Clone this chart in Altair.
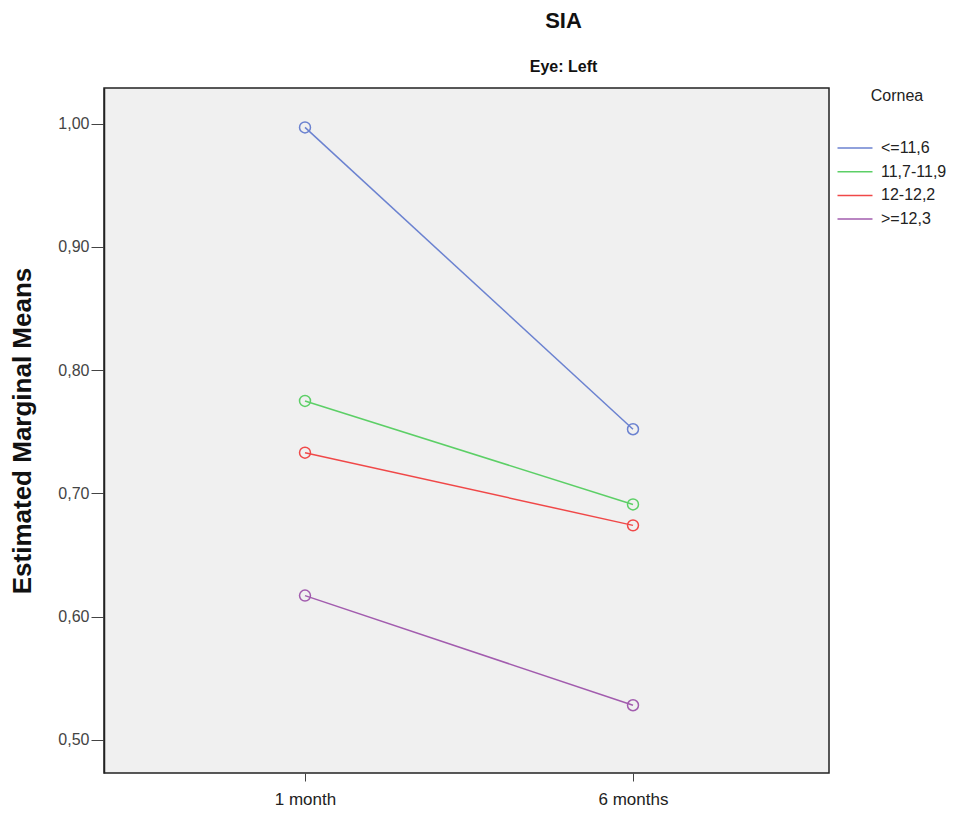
import altair as alt
import pandas as pd

times = ["1 month", "6 months"]
groups = ["<=11,6", "11,7-11,9", "12-12,2", ">=12,3"]
colors = ["#6b82d0", "#5ccf66", "#f04848", "#a25cae"]
vals_le116 = [0.997, 0.752]
vals_117_119 = [0.775, 0.691]
vals_12_122 = [0.733, 0.674]
vals_ge123 = [0.617, 0.528]

rows = []
for g, vals in zip(groups, [vals_le116, vals_117_119, vals_12_122, vals_ge123]):
    for t, v in zip(times, vals):
        rows.append({"time": t, "Cornea": g, "mean": v})
df = pd.DataFrame(rows)

x = alt.X("time:N", scale=alt.Scale(type="point", domain=times, range=[201, 529], padding=0),
          axis=alt.Axis(title=None, labelAngle=0, labelFontSize=17, labelColor="#222",
                        labelFont="Liberation Sans", domain=False,
                        tickColor="#444", tickSize=8, labelPadding=10, grid=False))
y = alt.Y("mean:Q", scale=alt.Scale(domain=[0.473, 1.029], nice=False, zero=False),
          axis=alt.Axis(title="Estimated Marginal Means", titleFontSize=26, titleFont="Liberation Sans",
                        titleFontWeight="bold", titleColor="#111", titlePadding=22,
                        values=[0.5, 0.6, 0.7, 0.8, 0.9, 1.0],
                        labelExpr="replace(format(datum.value, '.2f'), '.', ',')",
                        labelFontSize=16, labelColor="#444", labelFont="Liberation Sans",
                        domainColor="#222", domainWidth=1.5, tickColor="#444", tickSize=13,
                        labelPadding=2, grid=False))
color = alt.Color("Cornea:N", scale=alt.Scale(domain=groups, range=colors),
                  legend=alt.Legend(title="Cornea", orient="none", legendX=743, legendY=0,
                                    symbolType="M-3,0H3", symbolSize=136, symbolStrokeWidth=1.5,
                                    titleFontSize=16, titleFontWeight="normal", titleFont="Liberation Sans",
                                    titleColor="#222", titlePadding=36, titleAnchor="middle",
                                    labelFontSize=16, labelFont="Liberation Sans", labelColor="#222",
                                    rowPadding=7.7, labelOffset=18))

base = alt.Chart(df).encode(x=x, y=y, color=color, detail="Cornea:N")
lines = base.mark_line(strokeWidth=1.5)
points = base.mark_point(shape="circle", filled=False, size=120, strokeWidth=1.5, opacity=1)

chart = (lines + points).properties(
    width=725, height=685,
    autosize=alt.AutoSizeParams(type="none"),
    padding={"left": 104, "top": 88, "right": 138, "bottom": 40},
    background="white",
    title=alt.TitleParams(text="SIA", subtitle="Eye: Left", anchor="middle", dx=97, offset=12,
                          fontSize=22, font="Liberation Sans", fontWeight="bold", color="#111",
                          subtitleFontSize=16, subtitleFont="Liberation Sans",
                          subtitleFontWeight="bold", subtitleColor="#111", subtitlePadding=26),
).configure_view(fill="#f0f0f0", stroke="#222", strokeWidth=1.5)

chart.save("out.html", embed_options={"renderer": "svg", "actions": False})
